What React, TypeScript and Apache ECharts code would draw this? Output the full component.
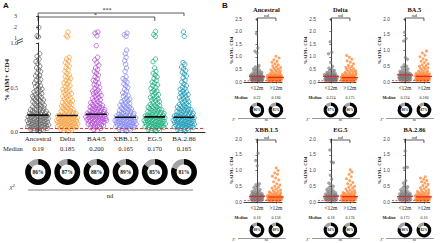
import React, { useEffect, useRef } from 'react';
import * as echarts from 'echarts';

const SERIF = '"Liberation Serif", "DejaVu Serif", serif';
const SANS = '"Liberation Sans", Arial, sans-serif';

// ---------- Panel A data ----------
const variantsA = ['Ancestral', 'Delta', 'BA4/5', 'XBB.1.5', 'EG.5', 'BA.2.86'];
const mediansA = [0.19, 0.185, 0.2, 0.165, 0.17, 0.165];
const medianTextA = ['0.19', '0.185', '0.200', '0.165', '0.170', '0.165'];
const positivePctA = [86, 87, 88, 89, 85, 81];
const colorsA = ['#666666', '#f8a13f', '#b24dd3', '#8286ee', '#18ae7c', '#1898b4'];
const thresholdA = 0.04;
const yTicksLowA = ['0.0', '0.5', '1.0'];

const ancestralHigh = [1.95, 1.2, 1.1];
const deltaHigh = [1.55, 1.2, 1.1];
const ba45High = [1.55, 1.45, 1.2];
const xbbHigh = [1.45, 1.3, 1.15];
const eg5High = [1.6, 1.3, 1.15];
const ba286High = [1.55, 1.15];

const ancestralLow = [0.88,0.85,0.82,0.79,0.77,0.74,0.72,0.70,0.68,0.66,0.64,0.63,0.61,0.59,0.58,0.56,0.55,0.53,0.52,0.51,0.49,0.48,0.47,0.46,0.45,0.44,0.43,0.42,0.41,0.40,0.39,0.39,0.38,0.37,0.36,0.36,0.35,0.34,0.33,0.33,0.32,0.31,0.30,0.30,0.29,0.28,0.28,0.27,0.26,0.26,0.25,0.25,0.24,0.24,0.23,0.23,0.22,0.22,0.21,0.21,0.21,0.20,0.20,0.20,0.19,0.19,0.19,0.18,0.18,0.18,0.17,0.17,0.17,0.16,0.16,0.16,0.15,0.15,0.15,0.14,0.14,0.14,0.13,0.13,0.13,0.12,0.12,0.12,0.11,0.11,0.11,0.10,0.10,0.10,0.09,0.09,0.09,0.08,0.08,0.08,0.07,0.07,0.07,0.06,0.06,0.06,0.05,0.05,0.05,0.04,0.04,0.04,0.03,0.03,0.03,0.02,0.02,0.01];
const deltaLow = [0.84,0.82,0.80,0.78,0.76,0.74,0.72,0.70,0.68,0.66,0.64,0.62,0.61,0.60,0.58,0.57,0.55,0.54,0.52,0.51,0.50,0.48,0.47,0.46,0.45,0.44,0.43,0.42,0.41,0.40,0.39,0.38,0.37,0.36,0.35,0.34,0.33,0.33,0.32,0.31,0.30,0.30,0.29,0.28,0.27,0.27,0.26,0.25,0.25,0.24,0.23,0.23,0.22,0.22,0.21,0.21,0.20,0.20,0.19,0.19,0.19,0.18,0.18,0.18,0.17,0.17,0.17,0.16,0.16,0.16,0.15,0.15,0.15,0.14,0.14,0.14,0.13,0.13,0.13,0.12,0.12,0.12,0.11,0.11,0.11,0.10,0.10,0.10,0.09,0.09,0.09,0.08,0.08,0.08,0.07,0.07,0.07,0.06,0.06,0.06,0.05,0.05,0.05,0.04,0.04,0.03,0.03,0.02,0.02,0.01];
const ba45Low = [0.97,0.84,0.81,0.78,0.75,0.72,0.70,0.68,0.66,0.64,0.62,0.60,0.58,0.57,0.55,0.53,0.52,0.50,0.49,0.47,0.46,0.45,0.44,0.43,0.42,0.41,0.40,0.39,0.38,0.37,0.36,0.35,0.34,0.33,0.32,0.32,0.31,0.30,0.30,0.29,0.28,0.28,0.27,0.27,0.26,0.26,0.25,0.25,0.24,0.24,0.23,0.23,0.22,0.22,0.21,0.21,0.21,0.20,0.20,0.20,0.19,0.19,0.19,0.18,0.18,0.18,0.17,0.17,0.17,0.16,0.16,0.16,0.15,0.15,0.15,0.14,0.14,0.14,0.13,0.13,0.13,0.12,0.12,0.12,0.11,0.11,0.10,0.10,0.09,0.09,0.08,0.08,0.07,0.07,0.06,0.06,0.05,0.05,0.04,0.03,0.02];
const xbbLow = [0.92,0.88,0.84,0.80,0.76,0.72,0.68,0.62,0.60,0.58,0.56,0.54,0.52,0.50,0.48,0.46,0.44,0.42,0.41,0.40,0.38,0.37,0.36,0.35,0.34,0.33,0.32,0.31,0.30,0.30,0.29,0.28,0.27,0.27,0.26,0.25,0.25,0.24,0.23,0.23,0.22,0.22,0.21,0.21,0.20,0.20,0.19,0.19,0.18,0.18,0.18,0.17,0.17,0.17,0.16,0.16,0.16,0.15,0.15,0.15,0.14,0.14,0.14,0.13,0.13,0.13,0.12,0.12,0.12,0.11,0.11,0.11,0.10,0.10,0.10,0.09,0.09,0.09,0.08,0.08,0.08,0.07,0.07,0.07,0.06,0.06,0.06,0.05,0.05,0.05,0.04,0.04,0.03,0.03,0.02,0.02,0.01];
const eg5Low = [0.82,0.79,0.72,0.68,0.66,0.64,0.62,0.60,0.58,0.56,0.55,0.53,0.52,0.50,0.49,0.47,0.46,0.45,0.44,0.42,0.41,0.40,0.39,0.38,0.37,0.36,0.35,0.34,0.33,0.32,0.31,0.30,0.30,0.29,0.28,0.28,0.27,0.26,0.26,0.25,0.25,0.24,0.24,0.23,0.23,0.22,0.22,0.21,0.21,0.20,0.20,0.19,0.19,0.19,0.18,0.18,0.18,0.17,0.17,0.17,0.16,0.16,0.16,0.15,0.15,0.15,0.14,0.14,0.14,0.13,0.13,0.13,0.12,0.12,0.12,0.11,0.11,0.11,0.10,0.10,0.10,0.09,0.09,0.09,0.08,0.08,0.08,0.07,0.07,0.07,0.06,0.06,0.06,0.05,0.05,0.05,0.04,0.04,0.03,0.03,0.02,0.02,0.01];
const ba286Low = [0.78,0.76,0.73,0.71,0.69,0.67,0.65,0.63,0.61,0.58,0.56,0.54,0.52,0.50,0.49,0.48,0.46,0.45,0.44,0.43,0.42,0.41,0.40,0.39,0.38,0.37,0.36,0.35,0.34,0.33,0.32,0.31,0.30,0.30,0.29,0.28,0.28,0.27,0.26,0.26,0.25,0.25,0.24,0.24,0.23,0.23,0.22,0.22,0.21,0.21,0.20,0.20,0.19,0.19,0.19,0.18,0.18,0.18,0.17,0.17,0.17,0.16,0.16,0.16,0.15,0.15,0.15,0.14,0.14,0.14,0.13,0.13,0.13,0.12,0.12,0.12,0.11,0.11,0.11,0.10,0.10,0.10,0.09,0.09,0.09,0.08,0.08,0.08,0.07,0.07,0.07,0.06,0.06,0.06,0.05,0.05,0.05,0.04,0.04,0.03,0.03,0.02,0.02,0.01];

const lowA = [ancestralLow, deltaLow, ba45Low, xbbLow, eg5Low, ba286Low];
const highA = [ancestralHigh, deltaHigh, ba45High, xbbHigh, eg5High, ba286High];

// ---------- Panel B data ----------
const titlesB = ['Ancestral', 'Delta', 'BA.5', 'XBB.1.5', 'EG.5', 'BA.2.86'];
const groupsB = ['<12m', '>12m'];
const yMaxB = [2.5, 2.5, 2.0, 2.0, 2.0, 2.0];
const mediansB = [[0.22, 0.18], [0.224, 0.175], [0.224, 0.18], [0.18, 0.158], [0.18, 0.17], [0.175, 0.16]];
const medianTextB = [['0.22', '0.180'], ['0.224', '0.175'], ['0.224', '0.180'], ['0.18', '0.158'], ['0.18', '0.170'], ['0.175', '0.16']];
const positivePctB = [[86, 85], [87, 86], [88, 87], [88, 89], [84, 86], [80, 82]];
const thresholdB = 0.05;

const ancUnder = [1.92,1.35,1.22,1.15,0.65,0.60,0.55,0.52,0.48,0.45,0.42,0.40,0.38,0.36,0.35,0.33,0.32,0.30,0.29,0.28,0.27,0.26,0.25,0.24,0.23,0.22,0.22,0.21,0.20,0.20,0.19,0.18,0.18,0.17,0.16,0.16,0.15,0.14,0.14,0.13,0.12,0.12,0.11,0.10,0.10,0.09,0.08,0.08,0.07,0.06,0.06,0.05,0.04,0.03];
const ancOver = [1.02,0.95,0.88,0.82,0.78,0.72,0.68,0.64,0.60,0.57,0.54,0.51,0.48,0.46,0.44,0.42,0.40,0.38,0.36,0.35,0.34,0.32,0.31,0.30,0.29,0.28,0.27,0.26,0.25,0.24,0.23,0.23,0.22,0.21,0.21,0.20,0.20,0.19,0.19,0.18,0.18,0.17,0.17,0.16,0.16,0.15,0.15,0.14,0.14,0.13,0.13,0.12,0.12,0.11,0.11,0.10,0.10,0.09,0.09,0.08,0.08,0.07,0.07,0.06,0.06,0.05,0.05,0.04,0.04,0.03,0.03,0.02];
const deltaUnder = [1.60,1.18,1.12,0.78,0.62,0.55,0.50,0.46,0.43,0.40,0.38,0.36,0.34,0.33,0.31,0.30,0.29,0.28,0.27,0.26,0.25,0.24,0.23,0.22,0.21,0.20,0.20,0.19,0.18,0.17,0.17,0.16,0.15,0.15,0.14,0.13,0.12,0.12,0.11,0.10,0.09,0.09,0.08,0.07,0.06,0.06,0.05,0.04,0.03];
const deltaOver = [1.05,0.98,0.90,0.84,0.78,0.72,0.66,0.62,0.58,0.55,0.52,0.49,0.46,0.44,0.42,0.40,0.38,0.36,0.34,0.33,0.31,0.30,0.29,0.28,0.27,0.26,0.25,0.24,0.23,0.22,0.22,0.21,0.20,0.20,0.19,0.18,0.18,0.17,0.17,0.16,0.16,0.15,0.15,0.14,0.14,0.13,0.13,0.12,0.12,0.11,0.11,0.10,0.10,0.09,0.09,0.08,0.08,0.07,0.07,0.06,0.06,0.05,0.05,0.04,0.04,0.03,0.03,0.02];
const ba5Under = [1.58,1.38,1.30,0.78,0.72,0.55,0.50,0.47,0.44,0.41,0.38,0.36,0.34,0.32,0.30,0.29,0.28,0.27,0.26,0.25,0.24,0.23,0.22,0.21,0.20,0.20,0.19,0.18,0.17,0.17,0.16,0.15,0.14,0.14,0.13,0.12,0.11,0.10,0.10,0.09,0.08,0.07,0.06,0.05,0.04,0.03];
const ba5Over = [0.98,0.92,0.85,0.80,0.74,0.70,0.66,0.62,0.58,0.55,0.52,0.50,0.47,0.45,0.43,0.41,0.39,0.37,0.35,0.34,0.32,0.31,0.30,0.29,0.28,0.27,0.26,0.25,0.24,0.23,0.23,0.22,0.21,0.21,0.20,0.20,0.19,0.19,0.18,0.18,0.17,0.17,0.16,0.16,0.15,0.15,0.14,0.14,0.13,0.13,0.12,0.12,0.11,0.11,0.10,0.10,0.09,0.09,0.08,0.08,0.07,0.07,0.06,0.06,0.05,0.05,0.04,0.04,0.03,0.03,0.02];
const xbbUnder = [1.55,1.32,1.15,0.58,0.55,0.50,0.46,0.43,0.40,0.37,0.35,0.33,0.31,0.30,0.28,0.27,0.26,0.25,0.24,0.23,0.22,0.21,0.20,0.19,0.18,0.18,0.17,0.16,0.15,0.15,0.14,0.13,0.12,0.12,0.11,0.10,0.09,0.09,0.08,0.07,0.06,0.05,0.05,0.04,0.03];
const xbbOver = [1.08,1.00,0.92,0.88,0.82,0.76,0.70,0.64,0.58,0.54,0.50,0.47,0.44,0.41,0.38,0.36,0.34,0.32,0.30,0.29,0.28,0.27,0.26,0.25,0.24,0.23,0.22,0.21,0.20,0.20,0.19,0.18,0.18,0.17,0.17,0.16,0.16,0.15,0.15,0.14,0.14,0.13,0.13,0.12,0.12,0.11,0.11,0.10,0.10,0.09,0.09,0.08,0.08,0.07,0.07,0.06,0.06,0.05,0.05,0.04,0.04,0.03,0.03,0.02];
const eg5Under = [1.65,1.28,1.25,0.85,0.72,0.60,0.55,0.50,0.46,0.42,0.40,0.37,0.35,0.33,0.31,0.29,0.28,0.26,0.25,0.24,0.23,0.22,0.21,0.20,0.19,0.18,0.17,0.17,0.16,0.15,0.14,0.13,0.13,0.12,0.11,0.10,0.09,0.09,0.08,0.07,0.06,0.05,0.04,0.03];
const eg5Over = [1.02,0.95,0.88,0.80,0.74,0.68,0.62,0.58,0.54,0.50,0.47,0.44,0.41,0.38,0.36,0.34,0.32,0.30,0.29,0.28,0.27,0.26,0.25,0.24,0.23,0.22,0.21,0.21,0.20,0.19,0.19,0.18,0.18,0.17,0.17,0.16,0.16,0.15,0.15,0.14,0.14,0.13,0.13,0.12,0.12,0.11,0.11,0.10,0.10,0.09,0.09,0.08,0.08,0.07,0.07,0.06,0.06,0.05,0.05,0.04,0.04,0.03,0.03,0.02];
const ba286Under = [1.62,1.10,1.08,0.68,0.60,0.52,0.48,0.45,0.42,0.39,0.36,0.34,0.32,0.30,0.28,0.27,0.26,0.25,0.24,0.23,0.22,0.21,0.20,0.19,0.18,0.17,0.17,0.16,0.15,0.14,0.13,0.12,0.12,0.11,0.10,0.09,0.08,0.08,0.07,0.06,0.05,0.04,0.03];
const ba286Over = [0.80,0.76,0.72,0.68,0.64,0.60,0.56,0.52,0.48,0.45,0.42,0.39,0.37,0.35,0.33,0.31,0.30,0.29,0.28,0.27,0.26,0.25,0.24,0.23,0.22,0.21,0.20,0.20,0.19,0.18,0.18,0.17,0.16,0.16,0.15,0.15,0.14,0.14,0.13,0.13,0.12,0.12,0.11,0.11,0.10,0.10,0.09,0.09,0.08,0.08,0.07,0.07,0.06,0.06,0.05,0.05,0.04,0.04,0.03,0.03,0.02];

const underB = [ancUnder, deltaUnder, ba5Under, xbbUnder, eg5Under, ba286Under];
const overB = [ancOver, deltaOver, ba5Over, xbbOver, eg5Over, ba286Over];

// ---------- layout ----------
const GA = { left: 20, top: 43, width: 185, height: 89 };
const GAU = { left: 20, top: 16, width: 185, height: 22 };
const XA_MIN = -0.62, XA_MAX = 5.72;
const B_LEFT = [244, 318, 392];
const B_TOP = [19, 139];
const B_W = 38, B_H = 63;
const XB_MIN = -0.68, XB_MAX = 1.32;

// density-scaled spread (pixel offsets), deterministic golden-ratio order
function spread(values: number[], pxPerY: number, maxW: number, band: number, cap: number, pow = 0.5): [number, number][] {
  const sorted = [...values].sort((a, b) => a - b);
  const ys = sorted.map((v) => v * pxPerY);
  const phi = 0.6180339887;
  return sorted.map((v, i) => {
    const count = ys.filter((y) => Math.abs(y - ys[i]) <= band).length;
    const w = maxW * Math.min(1, Math.pow(count / cap, pow));
    const f = ((i + 1) * phi) % 1;
    return [w * (2 * f - 1), v];
  });
}

function buildOption() {
  const grid: any[] = [GA, GAU];
  const xAxis: any[] = [];
  const yAxis: any[] = [];
  const series: any[] = [];
  const axisLine = { show: true, lineStyle: { color: '#111', width: 0.9 } };

  xAxis.push({
    gridIndex: 0, type: 'value', min: XA_MIN, max: XA_MAX, axisLine, splitLine: { show: false },
    axisTick: { show: false },
    axisLabel: { customValues: [0, 1, 2, 3, 4, 5], formatter: (v: number) => variantsA[Math.round(v)] ?? '',
      fontFamily: SERIF, fontSize: 7, color: '#222', margin: 3 },
  });
  xAxis.push({ gridIndex: 1, type: 'value', min: XA_MIN, max: XA_MAX, show: false });
  yAxis.push({
    gridIndex: 0, type: 'value', min: 0, max: 1, interval: 0.5, splitLine: { show: false }, axisLine,
    axisTick: { show: true, length: 2, lineStyle: { color: '#111', width: 0.8 } },
    axisLabel: { formatter: (v: number) => yTicksLowA[Math.round(v * 2)] ?? '', fontFamily: SERIF, fontSize: 6, color: '#333', margin: 2 },
  });
  yAxis.push({
    gridIndex: 1, type: 'value', min: 1, max: 3, interval: 1, splitLine: { show: false }, axisLine,
    axisTick: { show: true, length: 2, lineStyle: { color: '#111', width: 0.8 } },
    axisLabel: { fontFamily: SERIF, fontSize: 6, color: '#333', margin: 3 },
  });

  const pxPerXA = GA.width / (XA_MAX - XA_MIN);
  variantsA.forEach((_, i) => {
    const lo = spread(lowA[i], GA.height, 11, 3, 20, 0.75);
    const hi = spread(highA[i], GAU.height / 2, 11, 3, 20, 0.75);
    const style = { color: 'rgba(0,0,0,0)', borderColor: colorsA[i], borderWidth: 0.8, opacity: 0.95 };
    series.push({ type: 'scatter', xAxisIndex: 0, yAxisIndex: 0, symbol: 'circle', symbolSize: 4.4, itemStyle: style, silent: true,
      data: lo.map(([px, v]) => [i + px / pxPerXA, v]) });
    series.push({ type: 'scatter', xAxisIndex: 1, yAxisIndex: 1, symbol: 'circle', symbolSize: 4.4, itemStyle: style, silent: true,
      data: hi.map(([px, v]) => [i + px / pxPerXA, v]) });
    series.push({ type: 'line', xAxisIndex: 0, yAxisIndex: 0, symbol: 'none', silent: true, z: 5,
      lineStyle: { color: '#111', width: 1.6 }, data: [[i - 0.36, mediansA[i]], [i + 0.36, mediansA[i]]] });
  });
  series.push({ type: 'line', xAxisIndex: 0, yAxisIndex: 0, symbol: 'none', silent: true, z: 6,
    lineStyle: { color: '#e8302c', width: 1, type: [3, 2] }, data: [[XA_MIN, thresholdA], [XA_MAX, thresholdA]] });

  // Panel B
  const pxPerXB = B_W / (XB_MAX - XB_MIN);
  titlesB.forEach((_, k) => {
    const col = k % 3, row = Math.floor(k / 3);
    const gi = 2 + k;
    grid.push({ left: B_LEFT[col], top: B_TOP[row], width: B_W, height: B_H });
    xAxis.push({
      gridIndex: gi, type: 'value', min: XB_MIN, max: XB_MAX, axisLine: { show: true, lineStyle: { color: '#111', width: 0.8 } },
      splitLine: { show: false },
      axisTick: { show: true, customValues: [0, 1], length: 1.5, lineStyle: { color: '#111', width: 0.6 } },
      axisLabel: { customValues: [0, 1], formatter: (v: number) => groupsB[Math.round(v)] ?? '', fontFamily: SERIF, fontSize: 5.5, color: '#222', margin: 3 },
    });
    yAxis.push({
      gridIndex: gi, type: 'value', min: 0, max: yMaxB[k], interval: 0.5, splitLine: { show: false },
      axisLine: { show: true, lineStyle: { color: '#111', width: 0.8 } },
      axisTick: { show: true, length: 1.5, lineStyle: { color: '#111', width: 0.6 } },
      axisLabel: { formatter: (v: number) => v.toFixed(1), fontFamily: SANS, fontSize: 4.8, color: '#444', margin: 2 },
    });
    const pxPerY = B_H / yMaxB[k];
    const u = spread(underB[k], pxPerY, 6.5, 2, 12);
    const o = spread(overB[k], pxPerY, 9, 2, 14);
    series.push({ type: 'scatter', xAxisIndex: gi, yAxisIndex: gi, symbol: 'circle', symbolSize: 3, silent: true,
      itemStyle: { color: 'rgba(120,120,120,0.8)', borderColor: 'rgba(80,80,80,0.6)', borderWidth: 0.3 },
      data: u.map(([px, v]) => [0 + px / pxPerXB, v]) });
    series.push({ type: 'scatter', xAxisIndex: gi, yAxisIndex: gi, symbol: 'circle', symbolSize: 3, silent: true,
      itemStyle: { color: 'rgba(255,118,26,0.85)' },
      data: o.map(([px, v]) => [1 + px / pxPerXB, v]) });
    [0, 1].forEach((g) => {
      series.push({ type: 'line', xAxisIndex: gi, yAxisIndex: gi, symbol: 'none', silent: true, z: 5,
        lineStyle: { color: '#e3262b', width: 1.2 }, data: [[g - 0.42, mediansB[k][g]], [g + 0.42, mediansB[k][g]]] });
    });
    series.push({ type: 'line', xAxisIndex: gi, yAxisIndex: gi, symbol: 'none', silent: true, z: 6,
      lineStyle: { color: '#e3262b', width: 0.8, type: [2, 1.5] }, data: [[XB_MIN, thresholdB], [XB_MAX, thresholdB]] });
  });

  return { animation: false, backgroundColor: '#ffffff', grid, xAxis, yAxis, series };
}

export default function App() {
  const ref = useRef<HTMLDivElement>(null);
  useEffect(() => {
    if (!ref.current) return;
    const chart = echarts.init(ref.current, null, { renderer: 'svg' });
    const option: any = buildOption();
    chart.setOption(option);

    const toPx = (axis: number, v: number, fallback: number) => {
      const p: any = chart.convertToPixel({ xAxisIndex: axis } as any, v);
      return typeof p === 'number' && isFinite(p) ? p : fallback;
    };
    const pxPerXA = GA.width / (XA_MAX - XA_MIN);
    const xA = variantsA.map((_, i) => toPx(0, i, GA.left + (i - XA_MIN) * pxPerXA));
    const pxPerXB = B_W / (XB_MAX - XB_MIN);

    const g: any[] = [];
    const txt = (x: number, y: number, text: string, fontSize: number, extra: any = {}, el: any = {}) =>
      g.push({ type: 'text', x, y, silent: true, ...el,
        style: { text, fontSize, fontFamily: SERIF, fill: '#222', textAlign: 'center', textVerticalAlign: 'middle', ...extra } });
    const line = (x1: number, y1: number, x2: number, y2: number, stroke = '#333', lineWidth = 0.8) =>
      g.push({ type: 'line', silent: true, shape: { x1, y1, x2, y2 }, style: { stroke, lineWidth } });
    const bracket = (x1: number, x2: number, y: number, drop: number, stroke = '#333') =>
      g.push({ type: 'polyline', silent: true, shape: { points: [[x1, y + drop], [x1, y], [x2, y], [x2, y + drop]] },
        style: { stroke, fill: 'none', lineWidth: 0.8 } });

    // Panel A labels
    txt(3, 5, 'A', 8, { fontFamily: SANS, fontWeight: 'bold', textAlign: 'left', fill: '#111' });
    txt(222, 5, 'B', 8, { fontFamily: SANS, fontWeight: 'bold', textAlign: 'left', fill: '#111' });
    txt(7, 80, '% AIM+ CD4', 7, { fontWeight: 'bold', fill: '#222' }, { rotation: Math.PI / 2 });
    // axis break
    line(17, 41, 23, 38.5, '#222', 0.8);
    line(17, 43.5, 23, 41, '#222', 0.8);
    // significance brackets
    bracket(xA[0], xA[5], 13, 3);
    txt((xA[0] + xA[5]) / 2 - 4, 9.5, '***', 6);
    bracket(xA[0], xA[4], 17, 4);
    txt((xA[0] + xA[4]) / 2 - 1, 14.5, '*', 6);
    // median row
    txt(3, 148, 'Median', 6.5, { textAlign: 'left' });
    xA.forEach((x, i) => txt(x, 148, medianTextA[i], 6.5));
    // chi-square row
    txt(12, 187, 'χ²', 7, { fontStyle: 'italic', fill: '#335' });
    line(28, 190, 193, 190, '#666', 0.8);
    txt(110, 195, 'nd', 6.5);

    const pies: any[] = [];
    const pie = (cx: number, cy: number, r0: number, r1: number, pct: number, fs: number) =>
      pies.push({
        type: 'pie', silent: true, center: [cx, cy], radius: [r0, r1], startAngle: 90, clockwise: true,
        label: { show: false }, labelLine: { show: false }, emphasis: { disabled: true }, z: 3,
        data: [
          { value: pct, name: 'pos', itemStyle: { color: '#050505' },
            label: { show: true, position: 'center', formatter: `${pct}%`, fontSize: fs, fontWeight: 'bold', fontFamily: SERIF, color: '#111' } },
          { value: 100 - pct, name: 'neg', itemStyle: { color: '#a3a3a3' }, label: { show: false } },
        ],
      });
    xA.forEach((x, i) => pie(x, 172, 7.5, 13, positivePctA[i], 5.5));

    // Panel B
    titlesB.forEach((t, k) => {
      const col = k % 3, row = Math.floor(k / 3);
      const top = B_TOP[row];
      const x0 = toPx(2 + k, 0, B_LEFT[col] + (0 - XB_MIN) * pxPerXB);
      const x1 = toPx(2 + k, 1, B_LEFT[col] + (1 - XB_MIN) * pxPerXB);
      txt((x0 + x1) / 2, top - 10, t, 6.5, { fontWeight: 'bold', fill: '#111' });
      txt(B_LEFT[col] - 13, top + B_H / 2, '%AIM+ CD4', 4.8, { fontWeight: 'bold', fill: '#222' }, { rotation: Math.PI / 2 });
      bracket(x0, x1, top + (row === 0 ? -1 : 1), 3);
      txt((x0 + x1) / 2, top + (row === 0 ? -4 : -2), 'nd', 5);
      const my = top + 78;
      txt(B_LEFT[col] - 3, my, 'Median', 4, { fontWeight: 'bold' });
      txt(x0, my, medianTextB[k][0], 4);
      txt(x1, my, medianTextB[k][1], 4);
      pie(x0, top + 91, 4.2, 7.4, positivePctB[k][0], 3.5);
      pie(x1, top + 91, 4.2, 7.4, positivePctB[k][1], 3.5);
      const cy = top + 99.5;
      txt(B_LEFT[col] - 10, cy, 'χ²', 4, { fontStyle: 'italic' });
      line(B_LEFT[col] - 6, cy, x1 + 10, cy, '#555', 0.6);
      txt((x0 + x1) / 2, cy + 1.8, 'ns', 3.6);
    });

    chart.setOption({ series: [...option.series, ...pies], graphic: g });
    return () => chart.dispose();
  }, []);
  return <div ref={ref} style={{ position: 'fixed', left: 0, top: 0, width: 440, height: 243, background: '#fff' }} />;
}
